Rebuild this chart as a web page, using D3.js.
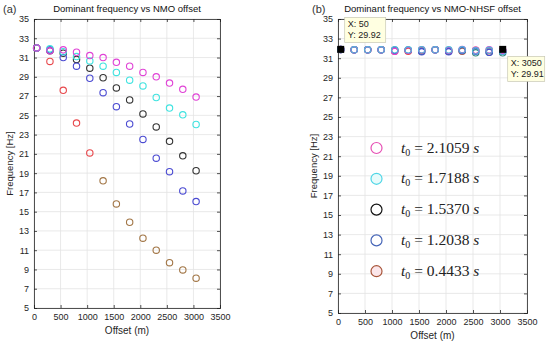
<!DOCTYPE html>
<html>
<head>
<meta charset="utf-8">
<script src="https://cdn.jsdelivr.net/npm/d3@7"></script>
<style>
  body { margin: 0; background: #fff; }
  text { font-family: "Liberation Sans", Arial, sans-serif; }
</style>
</head>
<body>
<div id="chart"></div>
<script>
// offsets (m)
const offsets = [50, 300, 550, 800, 1050, 1300, 1550, 1800, 2050, 2300, 2550, 2800, 3050];

// (a) NMO
const nmoMagenta = [32.0, 31.7, 31.8, 31.55, 31.2, 31.0, 30.5, 30.1, 29.45, 29.0, 28.35, 27.7, 26.9];
const nmoCyan    = [32.0, 31.9, 31.6, 31.1, 30.65, 30.1, 29.45, 28.65, 28.05, 26.85, 25.75, 25.05, 24.05];
const nmoBlack   = [32.0, 31.7, 31.45, 30.8, 29.9, 28.9, 27.85, 26.6, 25.15, 23.8, 22.3, 20.8, 19.25];
const nmoBlue    = [32.0, 31.8, 31.0, 30.1, 28.85, 27.35, 25.9, 24.1, 22.5, 20.55, 19.15, 17.15, 16.05];
const nmoRed     = [32.0, 30.6, 27.6, 24.2, 21.1, 18.2, 15.8, 13.9, 12.25, 11.0, 9.7, 8.95, 8.1];

// (b) NMO-NHSF
const nhsfMagenta = [31.9, 31.85, 31.85, 31.85, 31.7, 31.8, 31.85, 31.85, 31.8, 31.9, 31.8, 31.85, 31.8];
const nhsfCyan    = [31.9, 31.85, 31.85, 31.85, 31.85, 31.85, 31.85, 31.85, 31.85, 31.85, 31.75, 31.8, 31.7];
const nhsfBlack   = [31.9, 31.85, 31.85, 31.85, 31.8, 31.8, 31.7, 31.85, 31.7, 31.75, 31.55, 31.6, 31.55];
const nhsfBlue    = [31.9, 31.85, 31.85, 31.85, 31.8, 31.8, 31.65, 31.85, 31.65, 31.8, 31.7, 31.6, 31.7];
const nhsfRed     = [31.9, 31.85, 31.85, 31.85, 31.7, 31.7, 31.8, 31.85, 31.75, 31.7, 31.8, 31.75, 31.75];

const t0Labels = ["2.1059", "1.7188", "1.5370", "1.2038", "0.4433"];
const xTicks = [0, 500, 1000, 1500, 2000, 2500, 3000, 3500];
const yTicks = [5, 7, 9, 11, 13, 15, 17, 19, 21, 23, 25, 27, 29, 31, 33, 35];

// data tips
const tipPoints = [{ x: 50, y: 31.9, ty: "29.92" }, { x: 3050, y: 31.9, ty: "29.91" }];

const colMagenta = "#e043d6", colCyan = "#3fe3e0", colBlack = "#333333",
      colBlue = "#4b4bd2", colRed = "#e8484c", colBrown = "#a27646";

const svg = d3.select("#chart").append("svg")
  .attr("width", 550).attr("height", 345);

function panel(opt) {
  const x = d3.scaleLinear().domain([0, 3500]).range([opt.left, opt.right]);
  const y = d3.scaleLinear().domain([5, 35]).range([opt.bottom, opt.top]);
  const g = svg.append("g");

  // grid
  g.selectAll(".gx").data(xTicks).enter().append("line")
    .attr("x1", d => x(d)).attr("x2", d => x(d))
    .attr("y1", opt.top).attr("y2", opt.bottom)
    .attr("stroke", "#e3e3e3").attr("stroke-width", 0.8);
  g.selectAll(".gy").data(yTicks).enter().append("line")
    .attr("x1", opt.left).attr("x2", opt.right)
    .attr("y1", d => y(d)).attr("y2", d => y(d))
    .attr("stroke", "#e3e3e3").attr("stroke-width", 0.8);

  // axes
  const ax = g.append("g").attr("transform", `translate(0,${opt.bottom})`)
    .call(d3.axisBottom(x).tickValues(xTicks).tickSize(-3).tickPadding(6).tickFormat(d3.format("d")));
  const axTop = g.append("g").attr("transform", `translate(0,${opt.top})`)
    .call(d3.axisTop(x).tickValues(xTicks).tickSize(-3).tickFormat(""));
  const ay = g.append("g").attr("transform", `translate(${opt.left},0)`)
    .call(d3.axisLeft(y).tickValues(yTicks).tickSize(-3).tickPadding(5));
  const ayR = g.append("g").attr("transform", `translate(${opt.right},0)`)
    .call(d3.axisRight(y).tickValues(yTicks).tickSize(-3).tickFormat(""));
  [ax, axTop, ay, ayR].forEach(a => {
    a.selectAll("path").attr("stroke", "#262626").attr("stroke-width", 0.8);
    a.selectAll("line").attr("stroke", "#262626").attr("stroke-width", 0.8);
    a.selectAll("text").attr("fill", "#262626").style("font-size", "9px")
      .style("font-family", "'Liberation Sans', Arial, sans-serif");
  });

  // points
  opt.series.forEach(s => {
    g.selectAll(null).data(s.values).enter().append("circle")
      .attr("cx", (d, i) => x(offsets[i]))
      .attr("cy", d => y(d))
      .attr("r", 3.2)
      .attr("fill", "none")
      .attr("stroke", (d, i) => s.color(i))
      .attr("stroke-width", 1.1);
  });

  // labels
  g.append("text").attr("x", (opt.left + opt.right) / 2).attr("y", 12)
    .attr("text-anchor", "middle").style("font-size", "9.5px").attr("fill", "#111")
    .text(opt.title);
  g.append("text").attr("x", opt.tagX).attr("y", 13)
    .style("font-size", "11px").attr("fill", "#333").text(opt.tag);
  g.append("text").attr("x", (opt.left + opt.right) / 2).attr("y", opt.bottom + 26)
    .attr("text-anchor", "middle").style("font-size", "10px").attr("fill", "#262626")
    .text("Offset (m)");
  g.append("text")
    .attr("transform", `translate(${opt.left - 21},${(opt.top + opt.bottom) / 2}) rotate(-90)`)
    .attr("text-anchor", "middle").style("font-size", "9.5px").attr("fill", "#262626")
    .text("Frequency [Hz]");

  return { x, y, g };
}

const constColor = c => () => c;

panel({
  left: 34, right: 220, top: 19, bottom: 308, tagX: 3,
  title: "Dominant frequency vs NMO offset", tag: "(a)",
  series: [
    { values: nmoRed, color: i => (i < 5 ? colRed : colBrown) },
    { values: nmoBlack, color: constColor(colBlack) },
    { values: nmoBlue, color: constColor(colBlue) },
    { values: nmoCyan, color: constColor(colCyan) },
    { values: nmoMagenta, color: constColor(colMagenta) }
  ]
});

const pb = panel({
  left: 338, right: 527, top: 19, bottom: 313, tagX: 312,
  title: "Dominant frequency vs NMO-NHSF offset", tag: "(b)",
  series: [
    { values: nhsfRed, color: constColor(colRed) },
    { values: nhsfBlack, color: constColor("#2e8a80") },
    { values: nhsfBlue, color: constColor(colBlue) },
    { values: nhsfMagenta, color: constColor(colMagenta) },
    { values: nhsfCyan, color: constColor("#4fb8d8") }
  ]
});

// data tip markers and boxes
tipPoints.forEach((p, i) => {
  const px = pb.x(p.x), py = pb.y(p.y);
  pb.g.append("rect").attr("x", px - 3.5).attr("y", py - 3.5)
    .attr("width", 7).attr("height", 7).attr("fill", "#000");
  const bx = i === 0 ? px + 4 : px + 5;
  const by = i === 0 ? py - 32 : py + 7;
  const bw = i === 0 ? 41 : 37;
  pb.g.append("rect").attr("x", bx).attr("y", by).attr("width", bw).attr("height", 25)
    .attr("fill", "#ffffe1").attr("stroke", "#c8c8b4").attr("stroke-width", 0.7);
  pb.g.append("text").attr("x", bx + 3).attr("y", by + 10)
    .style("font-size", "9px").attr("fill", "#222").text("X: " + p.x);
  pb.g.append("text").attr("x", bx + 3).attr("y", by + 21)
    .style("font-size", "9px").attr("fill", "#222").text("Y: " + p.ty);
});

// legend
const legendColors = ["#e64fb4", "#4fd6e6", "#111111", "#4766b8", "#a8553a"];
const legendFills = ["none", "#e8fbfb", "none", "none", "#fbe6ea"];
const leg = svg.append("g");
t0Labels.forEach((lab, i) => {
  const ly = 148 + i * 30.8;
  leg.append("circle").attr("cx", 376.5).attr("cy", ly).attr("r", 5.5)
    .attr("fill", legendFills[i]).attr("stroke", legendColors[i]).attr("stroke-width", 1.2);
  const t = leg.append("text").attr("x", 401).attr("y", ly + 4.5)
    .style("font-family", "'Liberation Serif', 'DejaVu Serif', serif")
    .style("font-size", "15.5px").attr("fill", "#222");
  t.append("tspan").style("font-style", "italic").text("t");
  t.append("tspan").attr("dy", 3).style("font-size", "10px").text("0");
  t.append("tspan").attr("dy", -3).text(" = " + lab + " ");
  t.append("tspan").style("font-style", "italic").text("s");
});
</script>
</body>
</html>
